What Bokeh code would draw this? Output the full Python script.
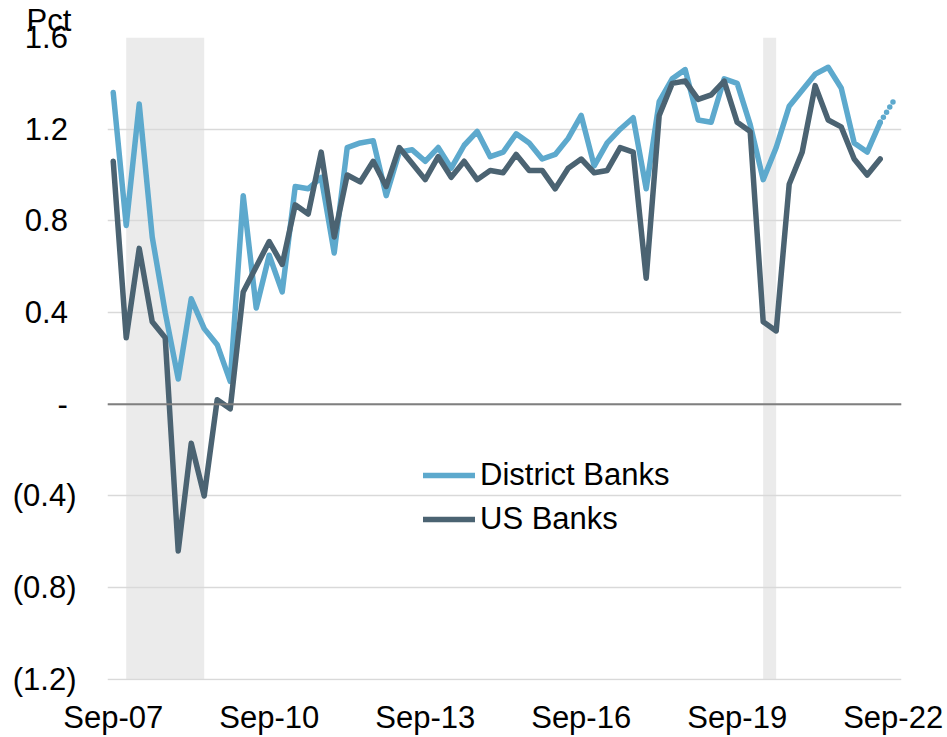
from bokeh.plotting import figure
from bokeh.models import FixedTicker, Legend, LegendItem, BoxAnnotation, Span, Title, Range1d
from bokeh.embed import file_html
from bokeh.resources import INLINE

# ---- data -------------------------------------------------------------
months = ["Mar", "Jun", "Sep", "Dec"]
quarters = []
for yr in range(2007, 2023):
    for m in months:
        quarters.append(f"{m}-{yr % 100:02d}")
quarters = quarters[quarters.index("Sep-07"):quarters.index("Sep-22") + 1]

district_banks = [1.36, 0.78, 1.31, 0.73, 0.40, 0.11, 0.46, 0.33, 0.26, 0.10,
                  0.91, 0.42, 0.65, 0.49, 0.95, 0.94, 0.99, 0.66, 1.12, 1.14,
                  1.15, 0.91, 1.10, 1.11, 1.06, 1.12, 1.03, 1.13, 1.19, 1.08,
                  1.10, 1.18, 1.14, 1.07, 1.09, 1.16, 1.26, 1.04, 1.14, 1.20,
                  1.25, 0.94, 1.32, 1.42, 1.46, 1.24, 1.23, 1.42, 1.40, 1.22,
                  0.98, 1.12, 1.30, 1.37, 1.44, 1.47, 1.38, 1.14, 1.10, 1.23]
district_banks_latest = 1.32   # Sep-22, shown dotted

us_banks = [1.06, 0.29, 0.68, 0.36, 0.29, -0.64, -0.17, -0.40, 0.02, -0.02,
            0.49, 0.60, 0.71, 0.61, 0.87, 0.83, 1.10, 0.73, 1.00, 0.97,
            1.06, 0.95, 1.12, 1.05, 0.98, 1.08, 0.99, 1.06, 0.98, 1.02,
            1.01, 1.09, 1.02, 1.02, 0.94, 1.03, 1.07, 1.01, 1.02, 1.12,
            1.10, 0.55, 1.26, 1.40, 1.41, 1.33, 1.35, 1.41, 1.23, 1.19,
            0.36, 0.32, 0.96, 1.10, 1.39, 1.24, 1.21, 1.07, 1.00, 1.07]

x_tick_labels = ["Sep-07", "Sep-10", "Sep-13", "Sep-16", "Sep-19", "Sep-22"]
y_tick_values = [-1.2, -0.8, -0.4, 0.0, 0.4, 0.8, 1.2, 1.6]
y_tick_labels = ["(1.2)", "(0.8)", "(0.4)", "-\u2008", "0.4\u2008", "0.8\u2008", "1.2\u2008", "1.6\u2008"]
recessions = [("Dec-07", "Jun-09"), ("Mar-20", "Jun-20")]

# ---- chart ------------------------------------------------------------
FONT = "Liberation Sans"
FS = "31px"
BLUE = "#5DA9CD"
DARK = "#4B6372"

x_all = list(range(len(quarters)))
x_main = x_all[:len(district_banks)]

p = figure(width=947, height=737, output_backend="svg", toolbar_location=None,
           x_range=Range1d(-0.44, 60.64), y_range=Range1d(-1.205, 1.6),
           min_border_left=107, min_border_right=46, min_border_top=34, min_border_bottom=55)
p.outline_line_color = None
p.background_fill_color = "white"

p.add_layout(Title(text="Pct", align="left", offset=-81, standoff=0,
                   text_font=FONT, text_font_size=FS, text_font_style="normal",
                   text_color="black"), "above")

for start, end in recessions:
    p.add_layout(BoxAnnotation(left=quarters.index(start), right=quarters.index(end),
                               top=y_tick_values[-1], bottom=y_tick_values[0],
                               fill_color="#EBEBEB", fill_alpha=1.0, line_color=None, level="image"))

p.xgrid.visible = False
p.ygrid.ticker = FixedTicker(ticks=y_tick_values)
p.ygrid.grid_line_color = "#D9D9D9"
p.ygrid.grid_line_width = 1.5

p.add_layout(Span(location=0, dimension="width", line_color="#7F7F7F", line_width=2))

r1 = p.line(x_main, district_banks, line_color=BLUE, line_width=5.5, line_join="round", line_cap="round")
p.line([x_main[-1], x_all[len(district_banks)]], [district_banks[-1], district_banks_latest],
       line_color=BLUE, line_width=5.5, line_dash="0 6", line_cap="round")
r2 = p.line(x_main, us_banks, line_color=DARK, line_width=5.5, line_join="round", line_cap="round")

# axes
p.yaxis.ticker = FixedTicker(ticks=y_tick_values)
p.yaxis.major_label_overrides = dict(zip(y_tick_values, y_tick_labels))
p.xaxis.ticker = FixedTicker(ticks=[quarters.index(l) for l in x_tick_labels])
p.xaxis.major_label_overrides = {quarters.index(l): l for l in x_tick_labels}
for ax in (p.xaxis, p.yaxis):
    ax.axis_line_color = None
    ax.major_tick_line_color = None
    ax.minor_tick_line_color = None
    ax.major_label_text_font = FONT
    ax.major_label_text_font_size = FS
    ax.major_label_text_color = "black"
p.yaxis.major_label_standoff = 25
p.xaxis.major_label_standoff = 13

legend = Legend(items=[LegendItem(label="District Banks", renderers=[r1]),
                       LegendItem(label="US Banks", renderers=[r2])],
                location=(316, 141), background_fill_alpha=0, border_line_color=None,
                padding=0, margin=0, spacing=4, glyph_width=52, glyph_height=40,
                label_height=40, label_standoff=5, label_text_color="black",
                label_text_font=FONT, label_text_font_size=FS)
p.add_layout(legend)

open("out.html", "w").write(file_html(p, INLINE))
